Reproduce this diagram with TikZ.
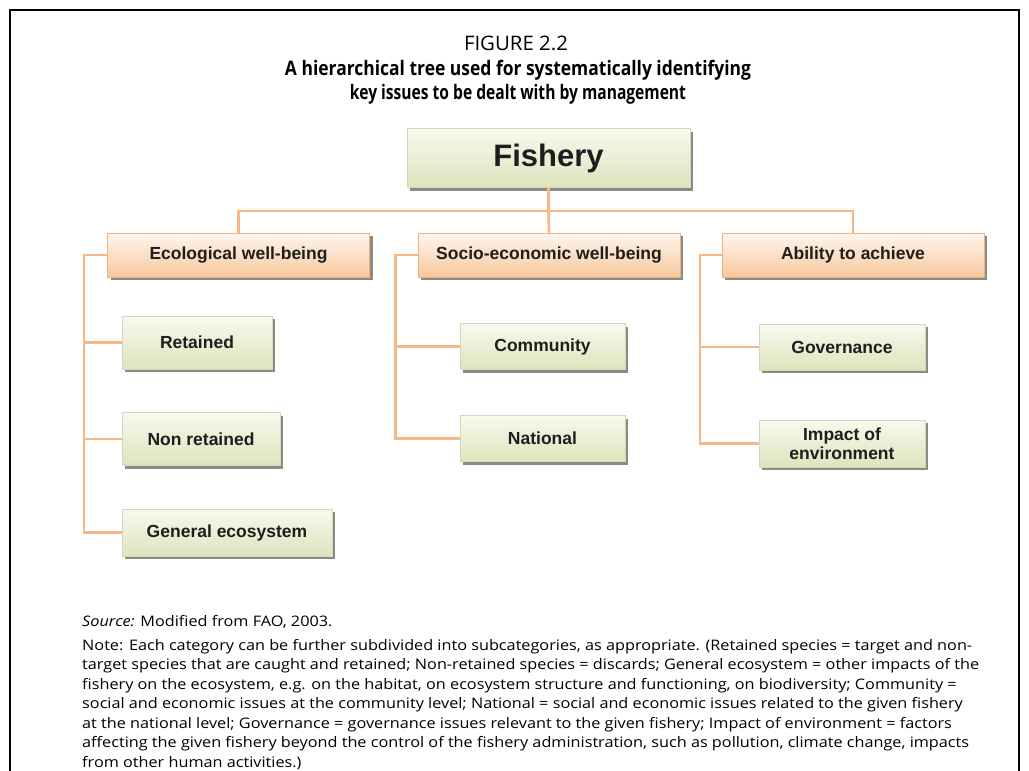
\documentclass[tikz,border=0pt]{standalone}
\usepackage{fontspec}
\usepackage{graphicx}
\setmainfont{Open Sans}
\newfontfamily\boxfont{Liberation Sans}
\usetikzlibrary{shadows,calc}

\definecolor{connc}{HTML}{F5B886}
\definecolor{gtop}{HTML}{F8F9EE}
\definecolor{gbot}{HTML}{DDE4BD}
\definecolor{otop}{HTML}{FEF6EF}
\definecolor{obot}{HTML}{F7C79C}
\definecolor{gborder}{HTML}{D3D7BC}
\definecolor{oborder}{HTML}{F2B27E}
\definecolor{shad}{HTML}{77776F}
\definecolor{txt}{HTML}{1E1E1E}

\newcommand{\notefont}{\fontsize{14.5}{17}\selectfont}
\newlength\notew
\settowidth\notew{\notefont Note: Each category can be further subdivided into subcategories, as appropriate. (Retained species = target and non-}

\tikzset{
  gbox/.style={draw=gborder, line width=0.8pt, top color=gtop, bottom color=gbot,
    drop shadow={shadow xshift=3pt, shadow yshift=-3pt, fill=shad, opacity=0.85},
    inner sep=0pt, text=txt, align=center,
    font=\boxfont\bfseries\fontsize{17.5}{19}\selectfont},
  obox/.style={gbox, draw=oborder, top color=otop, bottom color=obot},
  link/.style={draw=connc, line width=2.6pt},
  noteline/.style={anchor=base west, inner sep=0pt, font=\notefont},
  titleline/.style={anchor=base, inner sep=0pt, font=\bfseries\fontsize{20}{22}\selectfont},
}

\begin{document}
\begin{tikzpicture}[x=1pt,y=-1pt]
\pgfmathsetmacro\notesx{890pt/\notew}
\useasboundingbox (0,0) rectangle (1029,771);
\fill[white] (0,0) rectangle (1029,771);
% frame
\draw[line width=1.3pt] (10,771) -- (10,10) -- (1019,10) -- (1019,771);

% titles
\node[titleline, font=\fontsize{20}{22}\selectfont] (fig) at (516,50)
  {\resizebox{104pt}{\height}{FIGURE 2.2}};
\node[titleline] (t1) at (518,75)
  {\resizebox{466pt}{\height}{A hierarchical tree used for systematically identifying}};
\node[titleline] (t2) at (518,99.5)
  {\resizebox{336pt}{\height}{key issues to be dealt with by management}};

% boxes
\node[gbox, minimum width=283pt, minimum height=59pt, font=\boxfont\bfseries\fontsize{31}{33}\selectfont] (fishery) at (548.5,158) {Fishery};

\node[obox, minimum width=262pt, minimum height=44pt] (eco) at (238.5,255) {Ecological well-being};
\node[obox, minimum width=262pt, minimum height=44pt] (socio) at (549,255) {Socio-economic well-being};
\node[obox, minimum width=262pt, minimum height=44pt] (ability) at (853,255) {Ability to achieve};

\node[gbox, minimum width=150pt, minimum height=53pt] (retained) at (197,342.5) {Retained};
\node[gbox, minimum width=158pt, minimum height=53pt] (nonret) at (201,439) {Non retained};
\node[gbox, minimum width=210pt, minimum height=47pt] (general) at (227,532.5) {General ecosystem};

\node[gbox, minimum width=165pt, minimum height=46pt] (community) at (542.5,346.5) {Community};
\node[gbox, minimum width=165pt, minimum height=46pt] (national) at (542.5,438.5) {National};

\node[gbox, minimum width=166pt, minimum height=46pt] (governance) at (842,347) {Governance};
\node[gbox, minimum width=166pt, minimum height=47pt, font=\boxfont\bfseries\fontsize{17.5}{18.5}\selectfont] (impact) at (842,443.5) {Impact of\\environment};

% connectors
\coordinate (hub) at (548.5,211);
\coordinate (ecobus) at (84,0);
\coordinate (sociobus) at (395.5,0);
\coordinate (abilbus) at (700,0);

\draw[link] (fishery.south) -- (hub);
\draw[link] (eco.north) |- (hub) -| (ability.north);
\draw[link] (hub) -- (socio.north);

\draw[link] (eco.west) -- (ecobus |- eco.west) -- (ecobus |- general.west) -- (general.west);
\draw[link] (retained.west) -- (ecobus |- retained.west);
\draw[link] (nonret.west) -- (ecobus |- nonret.west);

\draw[link] (socio.west) -- (sociobus |- socio.west) -- (sociobus |- national.west) -- (national.west);
\draw[link] (community.west) -- (sociobus |- community.west);

\draw[link] (ability.west) -- (abilbus |- ability.west) -- (abilbus |- impact.west) -- (impact.west);
\draw[link] (governance.west) -- (abilbus |- governance.west);

% source and note
\node[noteline] (source) at (82,626) {\scalebox{\notesx}[1]{\textit{Source:} Modified from FAO, 2003.}};
\node[noteline] (n1) at (82,650) {\scalebox{\notesx}[1]{Note: Each category can be further subdivided into subcategories, as appropriate. (Retained species = target and non-}};
\node[noteline] (n2) at (82,669.5) {\scalebox{\notesx}[1]{target species that are caught and retained; Non-retained species = discards; General ecosystem = other impacts of the}};
\node[noteline] (n3) at (82,689) {\scalebox{\notesx}[1]{fishery on the ecosystem, e.g. on the habitat, on ecosystem structure and functioning, on biodiversity; Community =}};
\node[noteline] (n4) at (82,708.5) {\scalebox{\notesx}[1]{social and economic issues at the community level; National = social and economic issues related to the given fishery}};
\node[noteline] (n5) at (82,728) {\scalebox{\notesx}[1]{at the national level; Governance = governance issues relevant to the given fishery; Impact of environment = factors}};
\node[noteline] (n6) at (82,747.5) {\scalebox{\notesx}[1]{affecting the given fishery beyond the control of the fishery administration, such as pollution, climate change, impacts}};
\node[noteline] (n7) at (82,767) {\scalebox{\notesx}[1]{from other human activities.)}};
\end{tikzpicture}
\end{document}
